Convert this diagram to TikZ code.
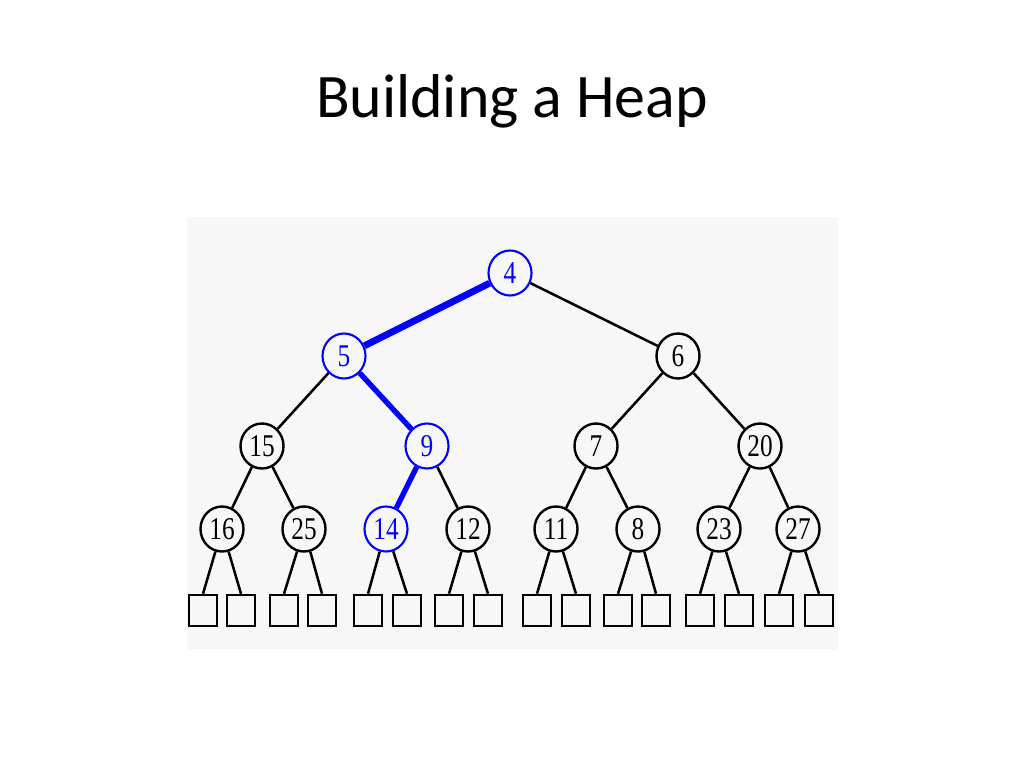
\documentclass[tikz,border=0pt]{standalone}
\usepackage{fontspec}
\setmainfont{Liberation Serif}[FakeStretch=0.8]
\newfontfamily\titlefont{Carlito}
\usetikzlibrary{shapes.geometric}

\begin{document}
\begin{tikzpicture}[
    x=0.025cm, y=-0.025cm,
    keybox/.style={ellipse, draw=black, line width=1.7pt, fill=black!3, inner sep=0pt,
        minimum width=1.075cm, minimum height=1.125cm, font=\fontsize{22.5}{22.5}\selectfont},
    hotbox/.style={keybox, draw=blue, text=blue, line width=1.5pt},
    nilbox/.style={rectangle, draw=black, line width=1.7pt, fill=black!3, inner sep=0pt,
        minimum width=0.7cm, minimum height=0.775cm},
    lnk/.style={line width=1.8pt, black},
    hotlnk/.style={line width=3.8pt, blue},
    ttl/.style={font=\titlefont\fontsize{44}{44}\selectfont, anchor=base},
]
\useasboundingbox (0,0) rectangle (1024,768);
\fill[white] (0,0) rectangle (1024,768);
\fill[black!3] (187,217) rectangle (838,650);
\node[ttl] (title) at (512,118) {Building a Heap};
% inner nodes
\node[hotbox] (n4) at (510,273) {4};
\node[hotbox] (n5) at (344,356) {5};
\node[keybox] (n6) at (678,356) {6};
\node[keybox] (n15) at (262,446) {15};
\node[hotbox] (n9) at (427,446) {9};
\node[keybox] (n7) at (596,446) {7};
\node[keybox] (n20) at (760,446) {20};
\node[keybox] (n16) at (222,529) {16};
\node[keybox] (n25) at (304,529) {25};
\node[hotbox] (n14) at (386,529) {14};
\node[keybox] (n12) at (468,529) {12};
\node[keybox] (n11) at (556,529) {11};
\node[keybox] (n8) at (638,529) {8};
\node[keybox] (n23) at (719,529) {23};
\node[keybox] (n27) at (798,529) {27};
% external nodes
\node[nilbox] (e1) at (203,610.5) {};
\node[nilbox] (e2) at (241,610.5) {};
\node[nilbox] (e3) at (284,610.5) {};
\node[nilbox] (e4) at (322,610.5) {};
\node[nilbox] (e5) at (368,610.5) {};
\node[nilbox] (e6) at (407,610.5) {};
\node[nilbox] (e7) at (449,610.5) {};
\node[nilbox] (e8) at (488,610.5) {};
\node[nilbox] (e9) at (537,610.5) {};
\node[nilbox] (e10) at (576,610.5) {};
\node[nilbox] (e11) at (618,610.5) {};
\node[nilbox] (e12) at (656,610.5) {};
\node[nilbox] (e13) at (700,610.5) {};
\node[nilbox] (e14) at (739,610.5) {};
\node[nilbox] (e15) at (779,610.5) {};
\node[nilbox] (e16) at (819,610.5) {};
% edges
\draw[hotlnk, line width=4.8pt] (n4) -- (n5);
\draw[hotlnk] (n5) -- (n9);
\draw[hotlnk] (n9) -- (n14);
\draw[lnk] (n4) -- (n6);
\draw[lnk] (n5) -- (n15);
\draw[lnk] (n6) -- (n7);
\draw[lnk] (n6) -- (n20);
\draw[lnk] (n15) -- (n16);
\draw[lnk] (n15) -- (n25);
\draw[lnk] (n9) -- (n12);
\draw[lnk] (n7) -- (n11);
\draw[lnk] (n7) -- (n8);
\draw[lnk] (n20) -- (n23);
\draw[lnk] (n20) -- (n27);
\draw[lnk] (n16) -- (e1.north);
\draw[lnk] (n16) -- (e2.north);
\draw[lnk] (n25) -- (e3.north);
\draw[lnk] (n25) -- (e4.north);
\draw[lnk] (n14) -- (e5.north);
\draw[lnk] (n14) -- (e6.north);
\draw[lnk] (n12) -- (e7.north);
\draw[lnk] (n12) -- (e8.north);
\draw[lnk] (n11) -- (e9.north);
\draw[lnk] (n11) -- (e10.north);
\draw[lnk] (n8) -- (e11.north);
\draw[lnk] (n8) -- (e12.north);
\draw[lnk] (n23) -- (e13.north);
\draw[lnk] (n23) -- (e14.north);
\draw[lnk] (n27) -- (e15.north);
\draw[lnk] (n27) -- (e16.north);
\end{tikzpicture}
\end{document}
